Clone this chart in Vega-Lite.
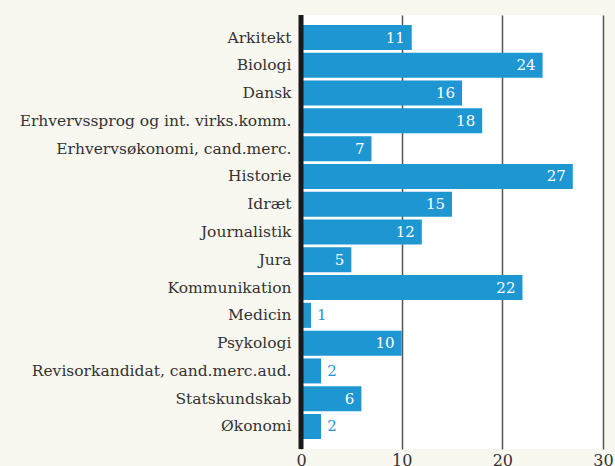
{
  "$schema": "https://vega.github.io/schema/vega-lite/v6.json",
  "autosize": "none",
  "width": 302,
  "height": 434,
  "padding": {"left": 301, "top": 15, "right": 12, "bottom": 17},
  "background": "#f8f7f0",
  "config": {
    "view": {"fill": "#ffffff", "stroke": null},
    "font": "DejaVu Serif"
  },
  "data": {
    "values": [
      {"fag": "Arkitekt", "v": 11},
      {"fag": "Biologi", "v": 24},
      {"fag": "Dansk", "v": 16},
      {"fag": "Erhvervssprog og int. virks.komm.", "v": 18},
      {"fag": "Erhvervsøkonomi, cand.merc.", "v": 7},
      {"fag": "Historie", "v": 27},
      {"fag": "Idræt", "v": 15},
      {"fag": "Journalistik", "v": 12},
      {"fag": "Jura", "v": 5},
      {"fag": "Kommunikation", "v": 22},
      {"fag": "Medicin", "v": 1},
      {"fag": "Psykologi", "v": 10},
      {"fag": "Revisorkandidat, cand.merc.aud.", "v": 2},
      {"fag": "Statskundskab", "v": 6},
      {"fag": "Økonomi", "v": 2}
    ]
  },
  "encoding": {
    "y": {
      "field": "fag", "type": "nominal", "sort": null,
      "scale": {"paddingInner": 0.1, "paddingOuter": 0.36},
      "axis": {"title": null, "domain": false, "ticks": false, "labelPadding": 10,
               "labelFontSize": 15.5, "labelColor": "#333333", "labelFont": "DejaVu Serif",
               "labelLimit": 0}
    },
    "x": {
      "field": "v", "type": "quantitative",
      "scale": {"domain": [0, 30], "nice": false},
      "axis": {"title": null, "domain": false, "ticks": false, "values": [0, 10, 20, 30],
               "grid": true, "gridColor": "#555555", "gridWidth": 1.5,
               "labelFontSize": 16, "labelColor": "#333333", "labelPadding": 3,
               "labelFlush": false}
    }
  },
  "layer": [
    {"mark": {"type": "bar", "color": "#1e96d2"}},
    {
      "transform": [{"filter": "datum.v >= 5"}],
      "mark": {"type": "text", "align": "right", "dx": -7, "color": "#ffffff", "fontSize": 15, "baseline": "middle"},
      "encoding": {"text": {"field": "v", "type": "quantitative"}}
    },
    {
      "transform": [{"filter": "datum.v < 5"}],
      "mark": {"type": "text", "align": "left", "dx": 6, "color": "#1e96d2", "fontSize": 15, "baseline": "middle"},
      "encoding": {"text": {"field": "v", "type": "quantitative"}}
    },
    {
      "data": {"values": [{"z": 0}]},
      "mark": {"type": "rule", "color": "#1a1a1a", "strokeWidth": 5},
      "encoding": {"x": {"field": "z", "type": "quantitative"}, "y": null}
    }
  ]
}
